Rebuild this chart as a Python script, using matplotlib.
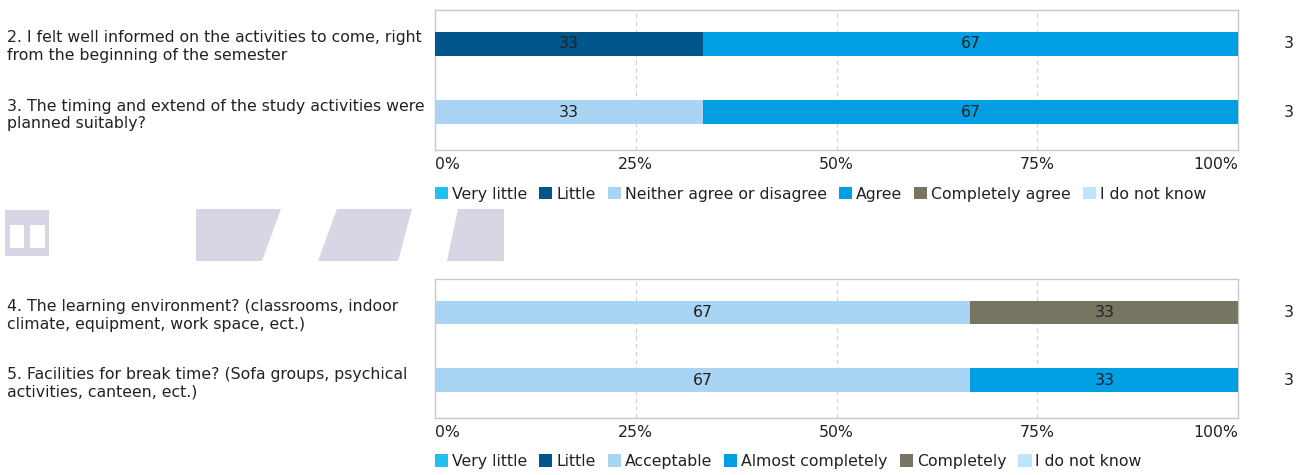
import numpy as np
import matplotlib.pyplot as plt
from matplotlib.patches import Rectangle, Polygon

# data: counts of answers per category (n = 3 respondents per question)
questions_top = ["2. I felt well informed on the activities to come, right\nfrom the beginning of the semester",
                 "3. The timing and extend of the study activities were\nplanned suitably?"]
cats_top = ["Very little", "Little", "Neither agree or disagree", "Agree", "Completely agree", "I do not know"]
counts_top = {
    "Very little": [0, 0],
    "Little": [1, 0],
    "Neither agree or disagree": [0, 1],
    "Agree": [2, 2],
    "Completely agree": [0, 0],
    "I do not know": [0, 0],
}
n_top = [3, 3]

questions_bot = ["4. The learning environment? (classrooms, indoor\nclimate, equipment, work space, ect.)",
                 "5. Facilities for break time? (Sofa groups, psychical\nactivities, canteen, ect.)"]
cats_bot = ["Very little", "Little", "Acceptable", "Almost completely", "Completely", "I do not know"]
counts_bot = {
    "Very little": [0, 0],
    "Little": [0, 0],
    "Acceptable": [2, 2],
    "Almost completely": [0, 1],
    "Completely": [1, 0],
    "I do not know": [0, 0],
}
n_bot = [3, 3]

tick_vals = [0, 25, 50, 75, 100]
tick_labels = ["0%", "25%", "50%", "75%", "100%"]

colors = ["#1ec1f0", "#00558a", "#a9d4f4", "#009fe3", "#777562", "#bfe5fa"]
txt_col = "#222222"
fs = 11.3

fig = plt.figure(figsize=(13.02, 4.75), dpi=100)


def draw_panel(ax, questions, cats, counts, ns):
    y = np.arange(len(questions))
    left = np.zeros(len(questions))
    handles = []
    for cat, col in zip(cats, colors):
        pct = np.array(counts[cat]) / np.array(ns) * 100
        h = ax.barh(y, pct, left=left, height=0.35, color=col, label=cat, zorder=3)
        handles.append(h)
        for yi, p, l in zip(y, pct, left):
            if p > 0:
                ax.text(l + p / 2, yi, f"{p:.0f}", ha="center", va="center",
                        fontsize=fs, color=txt_col, zorder=4)
        left += pct
    for yi, n in zip(y, ns):
        ax.annotate(str(n), xy=(1, yi), xycoords=ax.get_yaxis_transform(),
                    xytext=(33, 0), textcoords="offset points",
                    ha="left", va="center", fontsize=fs, color=txt_col)
    ax.set_xlim(0, 100)
    ax.set_ylim(1.56, -0.5)
    ax.set_yticks(y)
    ax.set_yticklabels(questions, fontsize=fs, color=txt_col, ha="left", linespacing=1.2)
    ax.tick_params(axis="y", length=0, pad=308)
    ax.set_xticks(tick_vals)
    ax.set_xticklabels(tick_labels, fontsize=fs, color=txt_col)
    ax.tick_params(axis="x", length=0, pad=5)
    xl = ax.get_xticklabels()
    xl[0].set_ha("left")
    xl[-1].set_ha("right")
    ax.grid(axis="x", color="#d0d0d0", linestyle=(0, (4, 3)), linewidth=0.8, zorder=0)
    for g in ax.xaxis.get_gridlines()[::4]:
        g.set_visible(False)
    for s in ax.spines.values():
        s.set_color("#c8c8c8")
        s.set_linewidth(1)
    ax.legend(handles=handles, loc="upper left", bbox_to_anchor=(0.0, -0.26),
              ncol=6, frameon=False, fontsize=fs, handlelength=0.85, handleheight=0.85,
              handletextpad=0.25, columnspacing=0.75, borderaxespad=0, borderpad=0,
              labelcolor=txt_col)


ax1 = fig.add_axes([0.334, 0.684, 0.617, 0.295])
draw_panel(ax1, questions_top, cats_top, counts_top, n_top)

ax2 = fig.add_axes([0.334, 0.120, 0.617, 0.293])
draw_panel(ax2, questions_bot, cats_bot, counts_bot, n_bot)

# pixelated (redacted) heading between the panels
W, H = 1302, 475
lav = "#d8d5e5"


def px_rect(x0, y0, x1, y1, **kw):
    fig.patches.append(Rectangle((x0 / W, 1 - y1 / H), (x1 - x0) / W, (y1 - y0) / H,
                                 transform=fig.transFigure, **kw))


def px_poly(pts):
    fig.patches.append(Polygon([(x / W, 1 - yy / H) for x, yy in pts], closed=True,
                               transform=fig.transFigure, facecolor=lav, edgecolor="none"))


px_rect(5, 210, 49, 256, facecolor=lav, edgecolor="none")
px_rect(10, 225, 24, 248, facecolor="white", edgecolor="none")
px_rect(30, 225, 45, 248, facecolor="white", edgecolor="none")
px_poly([(196, 209), (281, 209), (262, 261), (196, 261)])
px_poly([(337, 209), (412, 209), (398, 261), (318, 261)])
px_poly([(458, 209), (504, 209), (504, 261), (447, 261)])

fig.savefig("out.png", dpi=100)
